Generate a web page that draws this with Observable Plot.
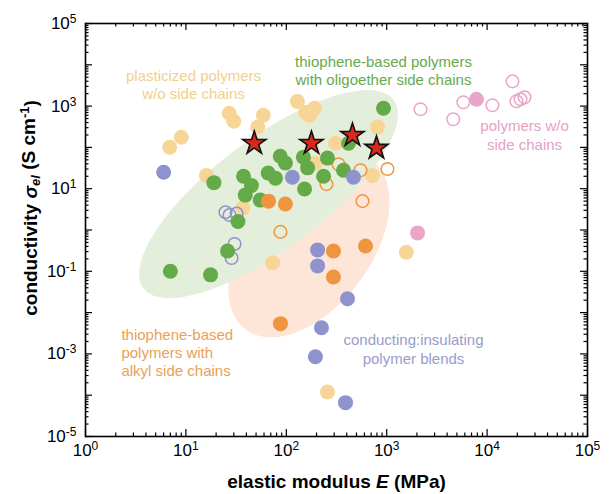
<!DOCTYPE html>
<html><head><meta charset="utf-8">
<script src="https://cdn.jsdelivr.net/npm/d3@7"></script>
<script src="https://cdn.jsdelivr.net/npm/@observablehq/plot@0.6"></script>
<style>
body{margin:0;background:#fff;}
#chart svg{font-family:"Liberation Sans",Arial,sans-serif;}
</style>
</head><body><div id="chart"></div>
<script>
// ---------- data (elastic modulus E in MPa, conductivity sigma in S/cm) ----------
const plasticizedE = [6.9, 9.0, 16, 27, 30, 59, 52, 129, 155, 191, 170, 309, 195, 37, 810, 720, 1570, 73, 257];
const plasticizedS = [101, 176, 21, 670, 430, 600, 310, 1300, 710, 885, 600, 126, 42, 3.4, 310, 21, 0.29, 0.16, 1.2e-4];

const oligoetherE = [929, 417, 148, 257, 87, 98, 163, 235, 371, 66, 78, 37.5, 45, 39, 55, 19, 152, 33, 26, 7.0, 17.6];
const oligoetherS = [885, 126, 58, 55, 61, 42, 32, 20, 28, 24, 18, 20, 12, 7.0, 5.3, 14, 9.8, 1.6, 0.31, 0.10, 0.082];

const alkylE = [66.5, 98, 295, 295, 615, 87.5];
const alkylS = [5.0, 4.25, 0.31, 0.073, 0.41, 0.0054];
const alkylOpenE = [331, 548, 1018, 251, 574, 87.5];
const alkylOpenS = [39, 28, 30, 12.9, 5.0, 0.9];

const blendE = [6.0, 115, 467, 205, 205, 407, 224, 195, 389];
const blendS = [25, 19, 19, 0.33, 0.135, 0.0216, 0.0043, 8.5e-4, 6.6e-5];
const blendOpenE = [24.8, 27.2, 32, 30.5, 28.5];
const blendOpenS = [2.7, 2.3, 2.5, 0.46, 0.21];

const noSideOpenE = [2170, 4600, 5800, 11300, 17900, 19600, 21500, 23600];
const noSideOpenS = [840, 480, 1240, 1050, 3970, 1310, 1460, 1630];
const noSideE = [7840, 2030];
const noSideS = [1460, 0.85];

const starE = [48, 178, 456, 791];
const starS = [126, 126, 197, 96];

// highlighted regions: centre (data units), semi-axes in decades of E, rotation (deg)
const greenRegion = {E: 66.5, S: 7.4, a: 1.56, b: 0.55, angle: 37};
const orangeRegion = {E: 168, S: 0.43, a: 1.05, b: 0.62, angle: 53};

// annotation labels
const labelTexts = [
  "plasticized polymers\nw/o side chains",
  "thiophene-based polymers\nwith oligoether side chains",
  "polymers w/o\nside chains",
  "thiophene-based\npolymers with\nalkyl side chains",
  "conducting:insulating\npolymer blends"
];
const labelE = [11.9, 929, 23600, 2.28, 1849];
const labelS = [3460, 7320, 203, 1.1e-3, 1.34e-3];

const xTickValues = [1, 10, 100, 1000, 1e4, 1e5];
const yTickValues = [1e5, 1e3, 1e1, 1e-1, 1e-3, 1e-5];

// ---------- layout ----------
const W = 613, H = 494, mL = 85, mR = 26, mT = 23, mB = 58;
const innerW = W - mL - mR, innerH = H - mT - mB;

const zip = (xs, ys) => xs.map((x, i) => ({E: x, S: ys[i]}));
const labels = labelTexts.map((t, i) => ({t, E: labelE[i], S: labelS[i]}));

function ellipse(p) {
  const kx = innerW / 5, ky = innerH / 10;   // px per decade
  const th = p.angle * Math.PI / 180;
  return d3.range(0, 361, 3).map(deg => {
    const t = deg * Math.PI / 180;
    const u = p.a * kx * Math.cos(t), v = p.b * kx * Math.sin(t);
    const dx = u * Math.cos(th) - v * Math.sin(th);
    const dy = u * Math.sin(th) + v * Math.cos(th);
    return {E: p.E * Math.pow(10, dx / kx), S: p.S * Math.pow(10, dy / ky)};
  });
}

const xMajor = d3.range(0, 6).map(k => Math.pow(10, k));
const yMajor = d3.range(-5, 6).map(k => Math.pow(10, k));
const minorOf = (lo, hi) => d3.range(lo, hi).flatMap(k => d3.range(2, 10).map(m => m * Math.pow(10, k)));
const xMinor = minorOf(0, 5), yMinor = minorOf(-5, 5);

const C = {
  yellow: "#f6d597", green: "#64aa48", orange: "#f0953f", blue: "#8e93cd", pink: "#eaa6c9",
  star: "#d9281d"
};
const labelColors = ["#f1d08c", "#68aa4d", "#e6a1c5", "#e9a156", "#979dcb"];
const labelAnchors = ["middle", "middle", "middle", "start", "middle"];

const tickStyle = {stroke: "#000", strokeWidth: 1.2};

const plot = Plot.plot({
  width: W, height: H,
  marginLeft: mL, marginRight: mR, marginTop: mT, marginBottom: mB,
  style: {fontFamily: "Liberation Sans, Arial, sans-serif", background: "#fff", overflow: "visible"},
  x: {type: "log", domain: [1, 1e5], axis: null},
  y: {type: "log", domain: [1e-5, 1e5], axis: null},
  marks: [
    Plot.line(ellipse(orangeRegion), {x: "E", y: "S", fill: "#fde5d8", stroke: "none", curve: "linear-closed"}),
    Plot.line(ellipse(greenRegion), {x: "E", y: "S", fill: "#e4efdb", stroke: "none", curve: "linear-closed"}),

    Plot.dot(zip(plasticizedE, plasticizedS), {x: "E", y: "S", r: 7.5, fill: C.yellow}),
    Plot.dot(zip(blendOpenE, blendOpenS), {x: "E", y: "S", r: 6.3, fill: "none", stroke: C.blue, strokeWidth: 1.5}),
    Plot.dot(zip(alkylOpenE, alkylOpenS), {x: "E", y: "S", r: 6.3, fill: "none", stroke: C.orange, strokeWidth: 1.5}),
    Plot.dot(zip(noSideOpenE, noSideOpenS), {x: "E", y: "S", r: 6.3, fill: "none", stroke: C.pink, strokeWidth: 1.5}),
    Plot.dot(zip(oligoetherE, oligoetherS), {x: "E", y: "S", r: 7.5, fill: C.green}),
    Plot.dot(zip(alkylE, alkylS), {x: "E", y: "S", r: 7.5, fill: C.orange}),
    Plot.dot(zip(blendE, blendS), {x: "E", y: "S", r: 7.5, fill: C.blue}),
    Plot.dot(zip(noSideE, noSideS), {x: "E", y: "S", r: 7.5, fill: C.pink}),
    Plot.dot(zip(starE, starS), {x: "E", y: "S", symbol: "star", r: 7.3, fill: C.star, stroke: "#111", strokeWidth: 1.6}),

    ...labels.map((d, i) => Plot.text([d], {
      x: "E", y: "S", text: "t", fontSize: 15, lineHeight: 1.22,
      fill: labelColors[i], textAnchor: labelAnchors[i]
    })),

    // ticks (inward on all four sides)
    Plot.tickX(xMajor, {x: d => d, insetTop: innerH - 7, ...tickStyle}),
    Plot.tickX(xMajor, {x: d => d, insetBottom: innerH - 7, ...tickStyle}),
    Plot.tickX(xMinor, {x: d => d, insetTop: innerH - 3.5, ...tickStyle}),
    Plot.tickX(xMinor, {x: d => d, insetBottom: innerH - 3.5, ...tickStyle}),
    Plot.tickY(yMajor, {y: d => d, insetRight: innerW - 7, ...tickStyle}),
    Plot.tickY(yMajor, {y: d => d, insetLeft: innerW - 7, ...tickStyle}),
    Plot.tickY(yMinor, {y: d => d, insetRight: innerW - 3.5, ...tickStyle}),
    Plot.tickY(yMinor, {y: d => d, insetLeft: innerW - 3.5, ...tickStyle}),
    Plot.frame({stroke: "#000", strokeWidth: 1.6}),

    // tick labels
    Plot.text(xTickValues, {x: d => d, frameAnchor: "bottom", dy: 19, text: d => `10^${Math.round(Math.log10(d))}`, fontSize: 17, fill: "#000", textAnchor: "middle"}),
    Plot.text(yTickValues, {y: d => d, frameAnchor: "left", dx: -9, text: d => `10^${Math.round(Math.log10(d))}`, fontSize: 17, fill: "#000", textAnchor: "end"}),

    // axis titles
    Plot.text(["elastic modulus E (MPa)"], {frameAnchor: "bottom", dy: 51, text: d => d, fontSize: 19, fontWeight: "bold", fill: "#000", textAnchor: "middle"}),
    Plot.text(["conductivity σ_el (S cm^-1)"], {frameAnchor: "left", dx: -55, dy: -22, rotate: -90, text: d => d, fontSize: 19, fontWeight: "bold", fill: "#000", textAnchor: "middle"})
  ]
});

// ---------- rich text: superscripts, subscripts, italics ----------
const NS = "http://www.w3.org/2000/svg";
function span(parent, txt, attrs = {}) {
  const s = document.createElementNS(NS, "tspan");
  for (const k in attrs) s.setAttribute(k, attrs[k]);
  s.textContent = txt;
  parent.appendChild(s);
  return s;
}
plot.querySelectorAll("text").forEach(t => {
  if (t.querySelector("tspan")) return;
  const s = t.textContent;
  let m = s.match(/^10\^(-?\d+)$/);
  if (m) {
    t.textContent = "";
    span(t, "10");
    span(t, m[1], {"font-size": "12", dy: "-0.5em"});
  } else if (s === "elastic modulus E (MPa)") {
    t.textContent = "";
    span(t, "elastic modulus ");
    span(t, "E", {"font-style": "italic"});
    span(t, " (MPa)");
  } else if (s === "conductivity σ_el (S cm^-1)") {
    t.textContent = "";
    span(t, "conductivity ");
    span(t, "σ", {"font-style": "italic"});
    span(t, "el", {"font-style": "italic", "font-size": "13", dy: "0.3em"});
    span(t, " (S cm", {dy: "-0.3em"});
    span(t, "-1", {"font-size": "13", dy: "-0.45em"});
    span(t, ")", {dy: "0.45em"});
  }
});

document.getElementById("chart").appendChild(plot);
</script>
</body></html>
